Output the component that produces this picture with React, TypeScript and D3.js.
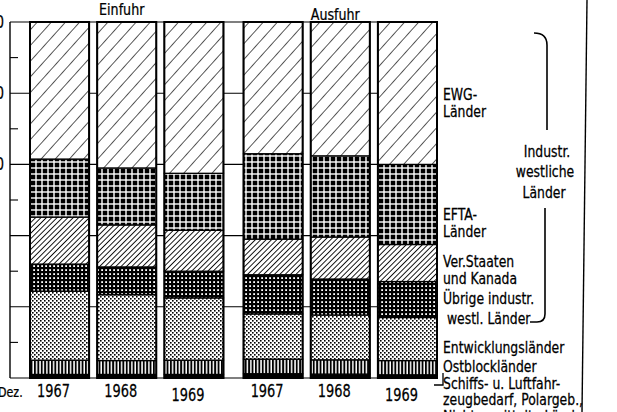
import React from 'react';
import * as d3 from 'd3';

// bar order: Einfuhr 1967/68/69, Ausfuhr 1967/68/69 (shares in %)
const groups = ['Einfuhr', 'Ausfuhr'];
const years = ['1967', '1968', '1969'];
const ewg = [38.5, 41, 42.5, 37, 37.6, 40];
const efta = [16.3, 16, 16, 24, 22.8, 22.5];
const usaKanada = [13.2, 11.8, 11.5, 10, 11.8, 10.4];
const uebrige = [7.6, 7.8, 7.5, 11, 10.1, 10.1];
const entwicklung = [19.4, 18.5, 17.5, 12.7, 12.6, 12.1];
const ostblock = [4, 3.9, 4, 4.1, 4, 4];
const schiffe = [1, 1, 1, 1.2, 1.1, 0.9];

const majorTicks = [0, 20, 40, 60, 80, 100];
const minorTicks = [10, 30, 50, 70, 90];
const tickLabels = ['100', '80', '60'];

const FONT = '"DejaVu Sans Condensed", "DejaVu Sans", sans-serif';

const keys = ['schiffe', 'ost', 'entw', 'uebrige', 'usa', 'efta', 'ewg'];
const fills: Record<string, string> = {
  schiffe: '#000',
  ost: 'url(#p-ost)',
  entw: 'url(#p-entw)',
  uebrige: 'url(#p-uebrige)',
  usa: 'url(#p-usa)',
  efta: 'url(#p-efta)',
  ewg: 'url(#p-ewg)',
};

// legend labels with their baselines
const legend = [
  { lines: ['EWG-', 'Länder'], ys: [100, 117] },
  { lines: ['EFTA-', 'Länder'], ys: [220, 237] },
  { lines: ['Ver.Staaten', 'und Kanada'], ys: [267, 284] },
  { lines: ['Übrige industr.', ' westl. Länder'], ys: [304, 324] },
  { lines: ['Entwicklungsländer'], ys: [353] },
  { lines: ['Ostblockländer'], ys: [372] },
  { lines: ['Schiffs- u. Luftfahr-', 'zeugbedarf, Polargeb.,', 'Nicht ermittelte Länder'], ys: [389, 405, 422] },
];
const industrLines = [
  { t: 'Industr.', x: 547, y: 157 },
  { t: 'westliche', x: 545, y: 177 },
  { t: 'Länder', x: 544, y: 198 },
];

// condensed text, squeezed a bit more horizontally like the print
const NText: React.FC<{ x: number; y: number; size: number; sx?: number; anchor?: string; children: React.ReactNode }> = ({
  x, y, size, sx = 0.92, anchor = 'start', children,
}) => (
  <text
    transform={`translate(${x},${y}) scale(${sx},1)`}
    textAnchor={anchor}
    fontFamily={FONT}
    fontSize={size}
    stroke="#000"
    strokeWidth={0.25}
    style={{ whiteSpace: 'pre' }}
  >
    {children}
  </text>
);

const App: React.FC = () => {
  const rows = groups.flatMap((g, gi) =>
    years.map((yr, yi) => {
      const i = gi * 3 + yi;
      return {
        group: g,
        year: yr,
        schiffe: schiffe[i],
        ost: ostblock[i],
        entw: entwicklung[i],
        uebrige: uebrige[i],
        usa: usaKanada[i],
        efta: efta[i],
        ewg: ewg[i],
      };
    })
  );

  const y = d3.scaleLinear().domain([0, 100]).range([378, 22]);
  const xGroup = d3.scaleBand<string>().domain(groups).range([30, 437]).paddingInner(0.094);
  const xYear = d3.scaleBand<string>().domain(years).range([0, xGroup.bandwidth()]).paddingInner(0.12);

  const series = d3.stack<any>().keys(keys)(rows);
  const barX = (d: any) => (xGroup(d.group) ?? 0) + (xYear(d.year) ?? 0);
  const bw = xYear.bandwidth();

  return (
    <svg width={617} height={412} style={{ position: 'absolute', left: 0, top: 0, background: '#fff' }}>
      <defs>
        <pattern id="p-ewg" width={10.5} height={10.5} patternUnits="userSpaceOnUse" patternTransform="rotate(42)">
          <rect width={10.5} height={10.5} fill="#fff" />
          <line x1={0} y1={0} x2={0} y2={10.5} stroke="#000" strokeWidth={1.3} />
        </pattern>
        <pattern id="p-usa" width={3.8} height={3.8} patternUnits="userSpaceOnUse" patternTransform="rotate(45)">
          <rect width={3.8} height={3.8} fill="#fff" />
          <line x1={0} y1={0} x2={0} y2={3.8} stroke="#000" strokeWidth={1.8} />
        </pattern>
        <pattern id="p-efta" width={6} height={6} patternUnits="userSpaceOnUse">
          <rect width={6} height={6} fill="#fff" />
          <rect x={0.7} y={0.7} width={4.6} height={4.6} fill="#000" />
        </pattern>
        <pattern id="p-uebrige" width={4} height={4} patternUnits="userSpaceOnUse">
          <rect width={4} height={4} fill="#000" />
          <rect x={1.2} y={1.2} width={1.8} height={1.8} fill="#fff" />
        </pattern>
        <pattern id="p-entw" width={4} height={4} patternUnits="userSpaceOnUse">
          <rect width={4} height={4} fill="#fff" />
          <rect x={0} y={0} width={1.6} height={1.6} fill="#000" />
          <rect x={2} y={2} width={1.6} height={1.6} fill="#000" />
        </pattern>
        <pattern id="p-ost" width={3.4} height={4} patternUnits="userSpaceOnUse">
          <rect width={3.4} height={4} fill="#fff" />
          <rect x={0} y={0} width={1.9} height={4} fill="#000" />
        </pattern>
      </defs>

      {/* gridlines and axis */}
      {majorTicks.map((t) => (
        <line key={`g${t}`} x1={10} x2={437} y1={y(t)} y2={y(t)} stroke="#000" strokeWidth={1.1} />
      ))}
      {minorTicks.map((t) => (
        <line key={`m${t}`} x1={10} x2={18} y1={y(t)} y2={y(t)} stroke="#000" strokeWidth={1.1} />
      ))}
      <line x1={10} x2={10} y1={y(100)} y2={y(0)} stroke="#000" strokeWidth={1.4} />
      {tickLabels.map((l) => (
        <NText key={l} x={4} y={y(+l) + 6} size={17} sx={0.85} anchor="end">
          {l}
        </NText>
      ))}

      {/* stacked bars */}
      {series.map((s) => (
        <g key={s.key}>
          {s.map((d, i) => (
            <rect
              key={i}
              x={barX(d.data)}
              y={y(d[1])}
              width={bw}
              height={y(d[0]) - y(d[1])}
              fill={fills[s.key]}
              stroke="#000"
              strokeWidth={1.3}
            />
          ))}
        </g>
      ))}
      {rows.map((d, i) => (
        <rect key={`o${i}`} x={barX(d)} y={y(100)} width={bw} height={y(0) - y(100)} fill="none" stroke="#000" strokeWidth={2} />
      ))}

      {/* group and year labels */}
      {groups.map((g, gi) => (
        <NText key={g} x={(xGroup(g) ?? 0) + xGroup.bandwidth() / 2 - 5} y={gi === 0 ? 15 : 20} size={16} sx={0.88} anchor="middle">
          {g}
        </NText>
      ))}
      {rows.map((d, i) => (
        <NText key={`y${i}`} x={barX(d) + bw / 2 - 6} y={d.year === '1969' ? 401 : 397} size={18} sx={0.8} anchor="middle">
          {d.year}
        </NText>
      ))}
      <NText x={-2} y={397} size={14} sx={0.88}>
        Dez.
      </NText>

      {/* legend */}
      {legend.map((l, li) =>
        l.lines.map((t, ti) => (
          <NText key={`${li}-${ti}`} x={443} y={l.ys[ti]} size={15}>
            {t}
          </NText>
        ))
      )}
      <path d="M443,373 L443,385 L434,385" fill="none" stroke="#000" strokeWidth={1.3} />

      {/* bracket for industrial countries */}
      <path d="M534,33 Q547,33 547,45 L547,130" fill="none" stroke="#000" strokeWidth={1.6} />
      <path d="M545,208 L545,314 Q545,322 537,322 L530,322" fill="none" stroke="#000" strokeWidth={1.6} />
      {industrLines.map((l) => (
        <NText key={l.t} x={l.x} y={l.y} size={15} anchor="middle">
          {l.t}
        </NText>
      ))}

      {/* frame line on the right */}
      <line x1={587} y1={0} x2={582} y2={412} stroke="#000" strokeWidth={1.4} />
    </svg>
  );
};

export default App;
